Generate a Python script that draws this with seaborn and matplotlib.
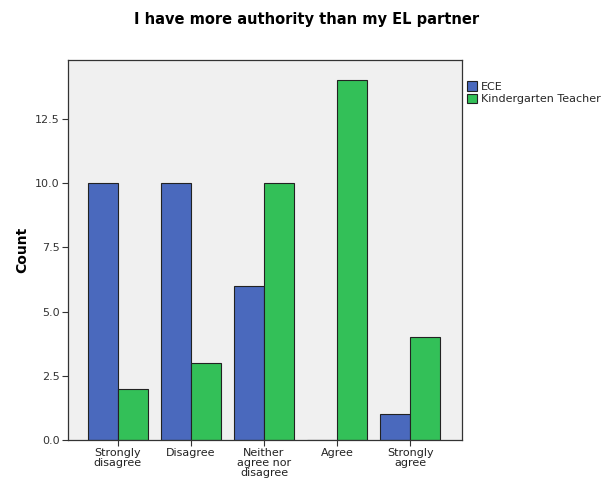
"""Recreate the EL partner authority bar chart."""

import matplotlib

matplotlib.use("Agg")
import matplotlib.pyplot as plt
import pandas as pd
import seaborn as sns

# Data
categories = [
    "Strongly\ndisagree",
    "Disagree",
    "Neither\nagree nor\ndisagree",
    "Agree",
    "Strongly\nagree",
]
ece_counts = [10, 10, 6, 0, 1]
kt_counts = [2, 3, 10, 14, 4]
groups = ["ECE", "Kindergarten Teacher"]
yticks = [0.0, 2.5, 5.0, 7.5, 10.0, 12.5]

df = pd.DataFrame(
    {
        "category": categories * 2,
        "count": ece_counts + kt_counts,
        "group": [groups[0]] * len(categories) + [groups[1]] * len(categories),
    }
)

sns.set_theme(style="white")
plt.rcParams["font.family"] = ["DejaVu Sans"]

fig = plt.figure(figsize=(6.13, 4.83), dpi=100)
ax = fig.add_axes([0.111, 0.089, 0.643, 0.787])
ax.set_facecolor("#f0f0f0")

sns.barplot(
    data=df,
    x="category",
    y="count",
    hue="group",
    order=categories,
    hue_order=groups,
    palette=["#4a69bd", "#33c058"],
    width=0.82,
    edgecolor="#222222",
    linewidth=0.8,
    saturation=1,
    ax=ax,
)

ax.set_xlim(-0.68, 4.71)
ax.set_ylim(0, 14.8)
ax.set_yticks(yticks)
ax.set_yticklabels([f"{t:.1f}" for t in yticks], fontsize=8, color="#333333")
ax.set_xticks(range(len(categories)))
ax.set_xticklabels(categories, fontsize=8, color="#222222", linespacing=0.95)
ax.tick_params(axis="both", length=4, width=0.8, color="#333333", direction="out",
               bottom=True, left=True, pad=2)
for spine in ax.spines.values():
    spine.set_color("#333333")
    spine.set_linewidth(0.9)

ax.set_xlabel("")
ax.set_ylabel("Count", fontsize=10, fontweight="bold", labelpad=4, color="black")
fig.suptitle("I have more authority than my EL partner", fontsize=10.5,
             fontweight="bold", x=0.5, y=0.975, color="black")

ax.legend(
    loc="upper left",
    bbox_to_anchor=(1.002, 0.955),
    frameon=False,
    fontsize=8,
    handlelength=0.9,
    handleheight=0.9,
    handletextpad=0.3,
    labelspacing=0.15,
    borderaxespad=0,
)

fig.savefig("out.png", dpi=100, facecolor="white")
